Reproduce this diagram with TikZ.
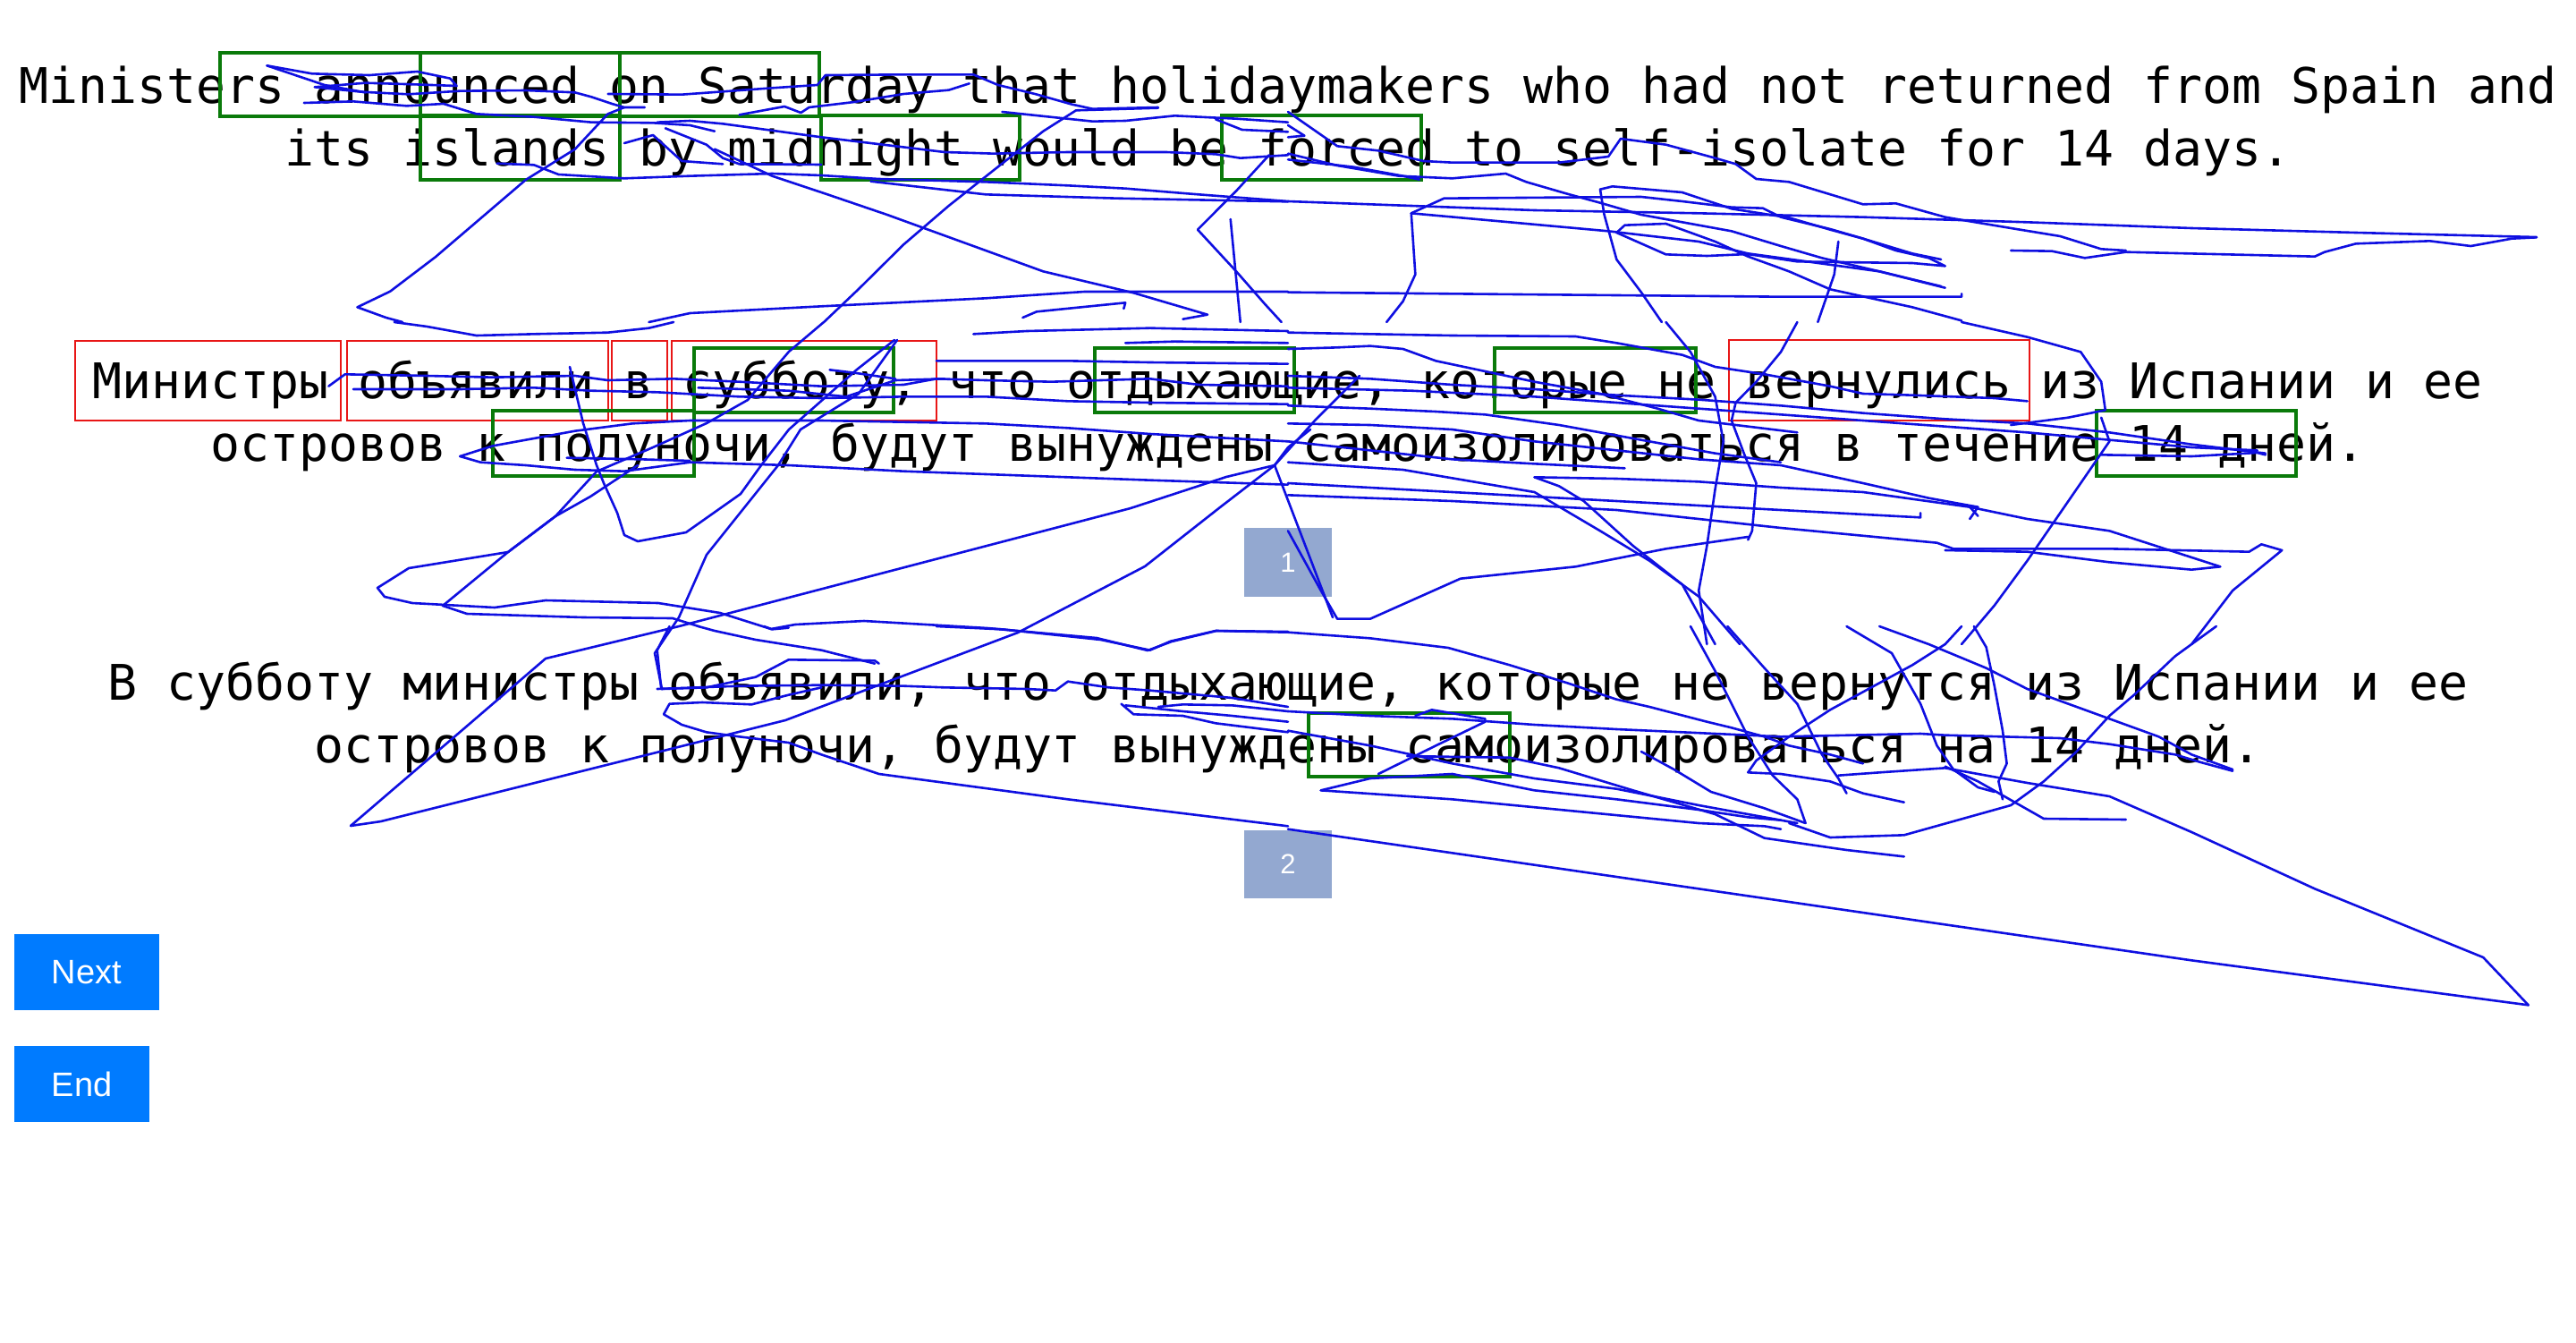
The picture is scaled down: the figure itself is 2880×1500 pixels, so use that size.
\documentclass[tikz,border=0pt]{standalone}
\usepackage{fontspec}
\setmainfont{Liberation Sans}
\newfontfamily\monof{DejaVu Sans Mono}
\newfontfamily\btnf{Liberation Sans}
\definecolor{scanblue}{RGB}{15,15,225}
\definecolor{boxgreen}{RGB}{10,122,10}
\definecolor{boxred}{RGB}{232,22,22}
\definecolor{btnblue}{RGB}{0,123,255}
\definecolor{numbox}{RGB}{147,168,208}
\tikzset{
 sent/.style={anchor=base, inner sep=0pt, font=\monof\fontsize{54.8}{66}\selectfont},
 gbox/.style={draw=boxgreen, line width=3.5pt},
 rbox/.style={draw=boxred, line width=2pt},
 numb/.style={fill=numbox},
 btn/.style={fill=btnblue},
 btnlbl/.style={inner sep=0pt, text=white, font=\btnf\fontsize{38}{44}\selectfont},
 numlbl/.style={inner sep=0pt, text=white, font=\btnf\fontsize{31}{36}\selectfont},
 scan/.style={draw=scanblue, line width=2.6pt, line join=round, line cap=round},
}
\begin{document}
\begin{tikzpicture}[x=1pt,y=-1pt]
\useasboundingbox (0,0) rectangle (2880,1500);
\fill[white] (0,0) rectangle (2880,1500);

% sentences
\node[sent] (en1) at (1440,115) {Ministers announced on Saturday that holidaymakers who had not returned from Spain and};
\node[sent] (en2) at (1440,185) {its islands by midnight would be forced to self-isolate for 14 days.};
\node[sent] (ru1) at (1440,445) {Министры объявили в субботу, что отдыхающие, которые не вернулись из Испании и ее};
\node[sent] (ru2) at (1440,515) {островов к полуночи, будут вынуждены самоизолироваться в течение 14 дней.};
\node[sent] (rb1) at (1440,782) {В субботу министры объявили, что отдыхающие, которые не вернутся из Испании и ее};
\node[sent] (rb2) at (1440,852) {островов к полуночи, будут вынуждены самоизолироваться на 14 дней.};

% green boxes
\draw[gbox] (246,59) rectangle (470,130);
\draw[gbox] (470,59) rectangle (693,130);
\draw[gbox] (693,59) rectangle (916,130);
\draw[gbox] (470,129) rectangle (693,201);
\draw[gbox] (918,129) rectangle (1140,201);
\draw[gbox] (1366,129) rectangle (1589,201);
% red boxes
\draw[rbox] (84,381) rectangle (381,470);
\draw[rbox] (388,381) rectangle (680,470);
\draw[rbox] (684,381) rectangle (746,470);
\draw[rbox] (751,381) rectangle (1047,470);
\draw[rbox] (1933,380) rectangle (2269,470);
% green middle
\draw[gbox] (776,389) rectangle (999,461);
\draw[gbox] (1224,389) rectangle (1447,461);
\draw[gbox] (1671,389) rectangle (1896,461);
\draw[gbox] (551,459) rectangle (776,532);
\draw[gbox] (2344,459) rectangle (2567,532);
% green bottom
\draw[gbox] (1463,797) rectangle (1688,868);

% number boxes
\fill[numb] (1391,590) rectangle (1489,667);
\node[numlbl] (n1) at (1440,628.5) {1};
\fill[numb] (1391,928) rectangle (1489,1004);
\node[numlbl] (n2) at (1440,966) {2};

% buttons
\fill[btn] (16,1044) rectangle (178,1129);
\node[btnlbl] (next) at (97,1086.5) {Next};
\fill[btn] (16,1169) rectangle (167,1254);
\node[btnlbl] (end) at (91.5,1211.5) {End};

% scanpath, zoom 1
\begin{scope}[x=0.91837pt,y=-0.33333pt,shift={(0pt,-40pt)}]
\draw[scan] plot coordinates {(325,100)(380,127)(450,132)(508,120)(548,143)(556,168)(505,163)(445,158)(383,172)(440,188)(497,196)(560,185)(640,183)(700,190)(720,205)(745,228)(760,240)(785,240)};
\draw[scan] plot coordinates {(325,100)(395,165)(445,190)};
\draw[scan] plot coordinates {(370,225)(430,220)(495,235)(540,228)(580,262)(650,272)(720,290)(795,292)(840,300)(870,320)};
\draw[scan] plot coordinates {(435,910)(475,857)(530,742)(640,483)(700,380)(740,262)(760,240)};
\draw[scan] plot coordinates {(740,195)(830,197)(940,175)(995,165)(1005,132)(1100,130)(1185,130)(1215,165)(1260,195)(1305,230)(1330,245)(1410,240)};
\draw[scan] plot coordinates {(900,265)(955,237)(975,258)(985,240)(1040,222)(1100,195)(1155,182)(1180,160)};
\draw[scan] plot coordinates {(800,290)(840,285)(880,295)(920,310)(1000,340)(1090,370)(1150,390)(1210,395)(1300,390)(1420,390)(1480,397)(1510,410)(1568,400)};
\draw[scan] plot coordinates {(810,310)(860,365)(880,410)(900,430)(1000,432)};
\draw[scan] plot coordinates {(760,360)(795,333)(830,420)(880,430)};
\draw[scan] plot coordinates {(605,428)(650,433)(680,465)(760,478)(840,470)(940,462)(1000,468)(1070,480)(1200,490)(1300,502)(1370,512)(1450,530)(1568,555)};
\draw[scan] plot coordinates {(1060,488)(1200,532)(1360,545)(1568,556)};
\draw[scan] plot coordinates {(870,380)(940,470)(1000,525)(1080,600)(1160,680)(1270,790)(1380,862)(1470,935)(1440,950)};
\draw[scan] plot coordinates {(1410,242)(1310,250)(1270,320)(1210,450)(1155,570)(1100,700)(1045,850)(1003,960)};
\draw[scan] plot coordinates {(790,960)(840,930)(1000,907)(1200,880)(1320,858)(1568,858)};
\draw[scan] plot coordinates {(1245,945)(1262,925)(1370,895)(1368,915)};
\draw[scan] plot coordinates {(1220,255)(1330,287)(1370,285)(1430,268)(1505,278)(1568,290)};
\draw[scan] plot coordinates {(1480,280)(1512,315)(1568,322)};
\draw[scan] plot coordinates {(1498,615)(1510,960)};
\draw[scan] plot coordinates {(1545,400)(1505,520)(1458,650)(1505,790)(1540,900)(1560,960)};
\draw[scan] plot coordinates {(435,910)(470,945)(490,960)};
\end{scope}

% zoom 2
\begin{scope}[x=0.91837pt,y=-0.33333pt,shift={(1440pt,-40pt)}]
\draw[scan] plot coordinates {(0,255)(60,370)(110,385)(165,420)(200,425)(330,425)(390,405)(405,345)(460,365)(520,410)(545,430)(570,480)(610,490)(670,540)(700,565)(740,562)(800,608)(830,622)(880,645)(940,672)(990,715)(1020,720)};
\draw[scan] plot coordinates {(880,720)(930,722)(970,745)(1020,725)(1250,740)(1262,725)(1300,697)(1390,688)(1440,705)(1490,680)(1520,676)};
\draw[scan] plot coordinates {(0,555)(150,570)(300,585)(500,595)(700,608)(900,625)(1100,645)(1300,660)(1520,675)};
\draw[scan] plot coordinates {(0,395)(60,435)(135,470)(200,478)(265,462)(290,490)(340,530)(380,560)(430,600)(480,625)(540,655)(600,705)(650,745)(720,790)(795,840)};
\draw[scan] plot coordinates {(0,415)(80,440)(140,470)(160,482)};
\draw[scan] plot coordinates {(150,595)(190,545)(330,542)(430,540)(480,555)(540,575)(578,578)(600,608)(660,648)(700,680)(740,720)(780,745)(800,772)(760,762)(700,760)(620,757)(560,732)(510,738)(460,733)(400,660)(410,635)(460,630)(520,690)(560,740)(610,790)(660,850)(710,880)(760,910)(820,955)};
\draw[scan] plot coordinates {(380,515)(395,505)(480,525)(540,580)(610,610)(660,650)(700,680)(760,730)(795,750)};
\draw[scan] plot coordinates {(150,595)(155,800)(140,890)(120,960)};
\draw[scan] plot coordinates {(380,515)(385,600)(400,750)(430,860)(455,960)};
\draw[scan] plot coordinates {(670,690)(665,800)(655,880)(645,960)};
\draw[scan] plot coordinates {(0,860)(200,865)(400,870)(600,875)(820,875)(820,865)};
\draw[scan] plot coordinates {(150,595)(390,655)(500,690)(560,730)(640,760)(720,790)(800,845)};
\draw[scan] plot coordinates {(0,300)(20,335)(0,340)};
\end{scope}

% zoom 3
\begin{scope}[x=0.91837pt,y=-0.33333pt,shift={(0pt,-360pt)}]
\draw[scan] plot coordinates {(480,0)(520,15)(580,45)(650,40)(740,35)(790,20)(820,0)};
\draw[scan] plot coordinates {(400,215)(420,175)(520,180)(600,185)(700,180)(740,195)(820,190)(900,200)(1000,215)(1100,210)(1140,190)(1200,195)(1280,200)(1400,190)(1460,210)(1568,215)};
\draw[scan] plot coordinates {(430,225)(560,225)(650,220)(720,230)(800,235)(900,250)(1000,255)(1100,250)(1200,250)(1300,265)(1400,270)(1568,275)};
\draw[scan] plot coordinates {(850,220)(960,230)(1030,250)(1090,195)(1150,190)};
\draw[scan] plot coordinates {(1010,160)(1040,170)(1090,190)};
\draw[scan] plot coordinates {(1185,40)(1250,30)(1400,20)(1568,30)};
\draw[scan] plot coordinates {(1370,70)(1430,65)(1568,70)};
\draw[scan] plot coordinates {(1140,130)(1300,130)(1400,135)(1568,140)};
\draw[scan] plot coordinates {(560,450)(600,415)(700,365)(770,340)(840,330)(1000,330)(1200,340)(1300,355)(1400,375)(1568,400)};
\draw[scan] plot coordinates {(560,450)(585,470)(640,480)(700,495)(760,500)(840,470)(960,480)(1100,500)(1250,515)(1400,530)(1568,545)};
\draw[scan] plot coordinates {(690,455)(780,460)(840,465)};
\end{scope}

% middle-left tangle (original pixel coordinates)
\draw[scan] plot coordinates {(921,360)(882,393)(836,447)(790,473)(730,500)(667,527)(621,577)(568,617)(457,635)(422,657)(430,667)(461,674)(553,679)(610,671)(736,674)(805,685)(862,703)(889,698)(966,694)(1104,702)(1226,713)(1283,727)(1310,717)(1360,705)(1440,706)};
\draw[scan] plot coordinates {(713,520)(660,555)(621,577)(568,617)(495,677)(522,686)(652,690)(752,691)(781,700)};
\draw[scan] plot coordinates {(637,410)(652,473)(667,520)(675,540)(690,573)(698,598)(713,605)(767,595)(828,552)(851,520)(882,480)(958,413)(1000,380)};
\draw[scan] plot coordinates {(1003,380)(960,440)(895,480)(870,520)(790,620)(759,690)(732,730)(740,770)};
\draw[scan] plot coordinates {(392,923)(426,918)(878,805)(1138,707)(1280,633)(1364,567)(1425,520)(1470,470)(1520,420)};
\draw[scan] plot coordinates {(392,923)(610,736)(759,700)(1264,568)(1371,533)(1425,520)(1490,690)};
\draw[scan] plot coordinates {(1425,520)(1440,500)(1465,480)};

% zoom 4
\begin{scope}[x=0.91837pt,y=-0.33333pt,shift={(1440pt,-360pt)}]
\draw[scan] plot coordinates {(0,35)(100,40)(200,45)(350,48)(400,70)(480,110)(520,150)(580,175)(660,215)(700,240)(760,245)(860,255)(900,265)};
\draw[scan] plot coordinates {(820,0)(900,50)(965,100)(990,200)(995,295)(950,320)(880,345)};
\draw[scan] plot coordinates {(620,0)(600,100)(570,200)(545,270)(540,330)(555,440)(570,540)(565,700)(560,730)};
\draw[scan] plot coordinates {(460,0)(490,100)(520,250)(530,400)(520,560)(510,750)(500,900)(510,1080)};
\draw[scan] plot coordinates {(0,90)(60,85)(100,80)(140,90)(180,130)(240,165)(300,200)(380,240)(450,290)(500,330)(560,350)(620,370)};
\draw[scan] plot coordinates {(0,180)(100,190)(200,210)(300,225)(400,245)(500,260)(600,280)(700,305)(800,325)(900,340)(1000,370)(1100,410)(1190,440)};
\draw[scan] plot coordinates {(0,220)(150,230)(300,250)(500,290)(700,330)(900,370)(1100,420)(1180,430)};
\draw[scan] plot coordinates {(0,280)(100,290)(180,300)(240,310)(330,345)(420,390)(520,440)(600,470)};
\draw[scan] plot coordinates {(0,340)(100,345)(200,360)(300,400)(400,430)(500,460)(600,480)(700,540)(780,590)(840,620)(830,660)};
\draw[scan] plot coordinates {(0,400)(100,430)(200,460)(300,475)(410,490)};
\draw[scan] plot coordinates {(0,470)(140,495)(300,570)(380,700)(440,800)(500,920)(550,1080)};
\draw[scan] plot coordinates {(300,520)(330,550)(360,600)(420,750)(480,880)(520,1080)};
\draw[scan] plot coordinates {(0,540)(200,570)(400,600)(600,630)(770,655)(770,640)};
\draw[scan] plot coordinates {(300,520)(400,525)(500,535)(600,555)(700,570)(830,620)(840,650)};
\draw[scan] plot coordinates {(0,580)(200,600)(400,630)(600,690)(790,740)(810,760)(1000,760)(1170,770)(1185,745)(1210,765)(1150,900)(1100,1080)};
\draw[scan] plot coordinates {(830,620)(900,660)(1000,700)(1090,780)(1135,820)(1100,830)(1000,805)(900,770)(800,765)};
\draw[scan] plot coordinates {(560,720)(460,760)(350,820)(210,860)(100,995)(60,995)(40,900)(0,700)};
\draw[scan] plot coordinates {(990,320)(1000,400)(950,600)(900,800)(860,950)(820,1080)};
\draw[scan] plot coordinates {(990,445)(1100,450)(1180,438)(1190,445)};
\end{scope}

% zoom 5
\begin{scope}[x=0.91837pt,y=-0.33333pt,shift={(0pt,-700pt)}]
\draw[scan] plot coordinates {(815,0)(800,80)(805,210)(860,205)(920,170)(960,112)(1065,115)(1070,125)};
\draw[scan] plot coordinates {(850,0)(870,15)(920,45)(1000,80)(1065,125)};
\draw[scan] plot coordinates {(930,0)(940,10)(960,5)};
\draw[scan] plot coordinates {(1140,0)(1220,10)(1340,45)(1400,80)(1425,50)(1480,15)(1568,20)};
\draw[scan] plot coordinates {(800,210)(900,200)(1000,197)(1100,200)(1150,205)(1250,210)(1285,215)(1300,185)(1350,205)(1400,215)(1500,240)(1568,270)};
\draw[scan] plot coordinates {(815,260)(855,255)(915,262)(960,230)(1000,205)};
\draw[scan] plot coordinates {(815,260)(808,295)(830,330)(860,355)(900,370)(960,390)(1000,430)(1070,495)(1300,580)(1568,670)};
\draw[scan] plot coordinates {(1365,260)(1380,295)(1440,300)(1480,325)(1568,355)};
\draw[scan] plot coordinates {(1370,265)(1440,285)(1500,300)(1568,320)};
\draw[scan] plot coordinates {(1410,270)(1440,262)(1500,265)(1568,285)};
\end{scope}

% zoom 6
\begin{scope}[x=0.91837pt,y=-0.33333pt,shift={(1440pt,-700pt)}]
\draw[scan] plot coordinates {(0,20)(100,40)(195,72)(270,130)(340,190)(400,245)(440,270)(510,320)(540,340)(580,370)(610,400)(660,430)(700,460)};
\draw[scan] plot coordinates {(490,0)(520,150)(560,370)(590,500)(620,580)(630,660)};
\draw[scan] plot coordinates {(535,0)(580,140)(620,260)(650,430)(670,510)(680,560)};
\draw[scan] plot coordinates {(680,0)(735,90)(770,260)(790,400)(810,480)(840,540)(860,555)};
\draw[scan] plot coordinates {(720,0)(780,60)(850,140)(900,210)(960,270)(1010,320)(1060,370)(1100,430)(1150,480)};
\draw[scan] plot coordinates {(1130,0)(1080,100)(1030,230)(1000,300)(960,420)(920,520)(880,600)(750,700)(660,708)(610,660)};
\draw[scan] plot coordinates {(820,0)(800,60)(760,130)(700,220)(660,280)(610,370)(570,450)(560,490)(600,495)(660,520)(700,560)(750,590)};
\draw[scan] plot coordinates {(835,0)(850,70)(860,200)(870,350)(875,460)(865,520)(870,580)};
\draw[scan] plot coordinates {(0,285)(100,300)(200,310)(300,330)(400,345)(600,370)(770,360)(800,365)(940,375)(1000,395)(1080,430)(1110,455)(1150,485)};
\draw[scan] plot coordinates {(0,350)(100,400)(200,460)(300,510)(400,545)(500,600)(580,640)(620,660)};
\draw[scan] plot coordinates {(40,550)(100,510)(200,495)(300,550)(400,580)(500,615)(560,640)(600,650)};
\draw[scan] plot coordinates {(40,550)(200,580)(500,660)(580,670)(600,680)};
\draw[scan] plot coordinates {(110,495)(180,400)(240,320)(240,310)(175,280)(155,300)};
\draw[scan] plot coordinates {(145,435)(210,438)(270,440)(330,475)(420,550)(520,630)(580,710)(680,750)(750,772)};
\draw[scan] plot coordinates {(430,420)(470,480)(515,555)(580,610)(630,660)};
\draw[scan] plot coordinates {(670,500)(720,490)(800,475)(900,525)(1000,570)(1100,690)(1250,880)(1455,1110)(1510,1270)};
\draw[scan] plot coordinates {(0,680)(200,760)(500,880)(800,1000)(1100,1120)(1510,1270)};
\draw[scan] plot coordinates {(800,470)(840,520)(920,645)(1020,648)};
\end{scope}
\end{tikzpicture}
\end{document}
